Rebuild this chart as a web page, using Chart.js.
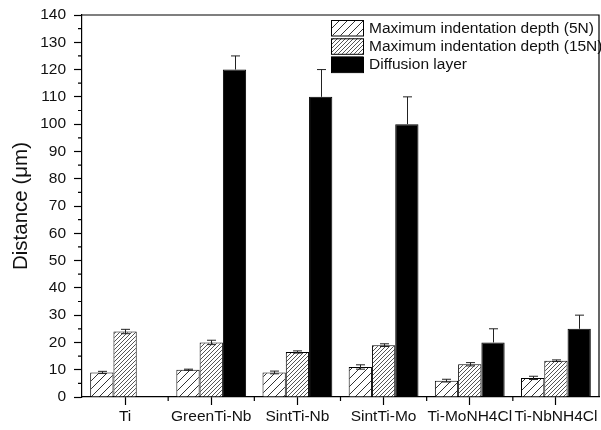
<!DOCTYPE html>
<html>
<head>
<meta charset="utf-8">
<script src="https://cdn.jsdelivr.net/npm/chart.js@4.4.0/dist/chart.umd.min.js"></script>
<style>
  html, body { margin: 0; padding: 0; background: #fff; }
  #wrap { width: 601px; height: 430px; }
</style>
</head>
<body>
<div id="wrap"><canvas id="c" width="601" height="430"></canvas></div>
<script>
// Samples and measured depths (µm)
const categories = ['Ti', 'GreenTi-Nb', 'SintTi-Nb', 'SintTi-Mo', 'Ti-MoNH4Cl', 'Ti-NbNH4Cl'];
const seriesNames = ['Maximum indentation depth (5N)', 'Maximum indentation depth (15N)', 'Diffusion layer'];

const depth5N      = [9, 10, 9, 11, 6, 7];
const depth5NErr   = [0.4, 0.2, 0.5, 0.8, 0.5, 0.6];
const depth15N     = [24, 20, 16.5, 19, 12, 13.3];
const depth15NErr  = [0.8, 0.8, 0.4, 0.5, 0.6, 0.3];
const diffusion    = [null, 120, 110, 100, 20, 25];
const diffusionErr = [null, 5, 10, 10, 5, 5];

const yMin = 0, yMax = 140, yStep = 10, yMinorStep = 5;

const FONT = "'Liberation Sans', Arial, sans-serif";
const INK = '#111';

// Diagonal "/" hatch fill
function hatch(size, lineColor, lineWidth) {
  const c = document.createElement('canvas');
  c.width = c.height = size;
  const g = c.getContext('2d');
  g.fillStyle = '#fff';
  g.fillRect(0, 0, size, size);
  g.strokeStyle = lineColor;
  g.lineWidth = lineWidth;
  g.beginPath();
  g.moveTo(0, size); g.lineTo(size, 0);
  g.moveTo(-1, 1); g.lineTo(1, -1);
  g.moveTo(size - 1, size + 1); g.lineTo(size + 1, size - 1);
  g.stroke();
  const ctx = document.getElementById('c').getContext('2d');
  return ctx.createPattern(c, 'repeat');
}

const fill5N = hatch(8, '#333', 1);
const fill15N = hatch(4, '#555', 1);
const fillDiff = '#000';

const errors = [depth5NErr, depth15NErr, diffusionErr];
const upwardOnly = [false, false, true];

// Error bars with caps, centred on each bar
const errorBars = {
  id: 'errorBars',
  afterDatasetsDraw(chart) {
    const ctx = chart.ctx;
    const y = chart.scales.y;
    ctx.save();
    ctx.strokeStyle = '#222';
    ctx.lineWidth = 1;
    chart.data.datasets.forEach((ds, di) => {
      const meta = chart.getDatasetMeta(di);
      meta.data.forEach((bar, i) => {
        const v = ds.data[i];
        const e = errors[di][i];
        if (v == null || e == null) return;
        const x = Math.round(bar.x) + 0.5;
        const yTop = y.getPixelForValue(v + e);
        const yBot = upwardOnly[di] ? y.getPixelForValue(v) : y.getPixelForValue(v - e);
        const cap = 4.5;
        ctx.beginPath();
        ctx.moveTo(x, yBot); ctx.lineTo(x, yTop);
        ctx.moveTo(x - cap, yTop); ctx.lineTo(x + cap, yTop);
        if (!upwardOnly[di]) { ctx.moveTo(x - cap, yBot); ctx.lineTo(x + cap, yBot); }
        ctx.stroke();
      });
    });
    ctx.restore();
  }
};

// Frame, minor ticks and legend
const decorations = {
  id: 'decorations',
  afterDraw(chart) {
    const ctx = chart.ctx;
    const a = chart.chartArea;
    const xs = chart.scales.x, ys = chart.scales.y;
    ctx.save();
    ctx.strokeStyle = '#000';
    ctx.lineWidth = 1.2;
    ctx.beginPath();
    ctx.moveTo(a.left, a.top); ctx.lineTo(a.right, a.top); ctx.lineTo(a.right, a.bottom);
    // minor y ticks
    for (let v = yMin + yMinorStep; v < yMax; v += yStep) {
      const py = ys.getPixelForValue(v);
      ctx.moveTo(a.left - 4, py); ctx.lineTo(a.left, py);
    }
    // minor x ticks at category boundaries
    for (let i = 0; i < categories.length - 1; i++) {
      const px = (xs.getPixelForValue(i) + xs.getPixelForValue(i + 1)) / 2;
      ctx.moveTo(px, a.bottom); ctx.lineTo(px, a.bottom + 4);
    }
    ctx.stroke();

    // legend
    const boxL = a.right - 268, boxW = 32, boxH = 15.5, rowTop = a.top + 5, pitch = 18.3;
    ctx.font = '15.5px ' + FONT;
    ctx.textBaseline = 'middle';
    ctx.textAlign = 'left';
    chart.data.datasets.forEach((ds, i) => {
      const top = rowTop + i * pitch;
      ctx.fillStyle = ds.backgroundColor;
      ctx.fillRect(boxL, top, boxW, boxH);
      ctx.lineWidth = 1;
      ctx.strokeStyle = '#000';
      ctx.strokeRect(boxL + 0.5, top + 0.5, boxW, boxH);
      ctx.fillStyle = INK;
      ctx.fillText(ds.label, boxL + boxW + 6, top + boxH / 2 + 0.5);
    });
    ctx.restore();
  }
};

new Chart(document.getElementById('c'), {
  type: 'bar',
  data: {
    labels: categories,
    datasets: [
      { label: seriesNames[0], data: depth5N, backgroundColor: fill5N, borderColor: '#000', borderWidth: 1 },
      { label: seriesNames[1], data: depth15N, backgroundColor: fill15N, borderColor: '#000', borderWidth: 1 },
      { label: seriesNames[2], data: diffusion, backgroundColor: fillDiff, borderColor: '#000', borderWidth: 1 }
    ]
  },
  options: {
    responsive: false,
    animation: false,
    devicePixelRatio: 1,
    layout: { padding: { top: 15, right: 2, left: 0, bottom: 0 } },
    datasets: { bar: { categoryPercentage: 0.81, barPercentage: 1.0 } },
    plugins: { legend: { display: false }, tooltip: { enabled: false } },
    scales: {
      x: {
        offset: true,
        grid: { offset: false, drawOnChartArea: false, tickLength: 8, tickColor: '#000', tickWidth: 1.2 },
        border: { color: '#000', width: 1.2 },
        ticks: { color: INK, padding: 2, autoSkip: false, maxRotation: 0, font: { family: FONT, size: 15.5 } },
        afterFit(s) { s.height = 33; s.paddingLeft = 0; s.paddingRight = 0; }
      },
      y: {
        min: yMin, max: yMax,
        grid: { drawOnChartArea: false, tickLength: 8, tickColor: '#000', tickWidth: 1.2 },
        border: { color: '#000', width: 1.2 },
        ticks: { stepSize: yStep, color: INK, padding: 8, font: { family: FONT, size: 15.5 } },
        title: { display: true, text: 'Distance (μm)', color: INK, font: { family: FONT, size: 20.5 }, padding: { top: 9, bottom: 0 } },
        afterFit(s) { s.width = 82; s.paddingTop = 0; s.paddingBottom = 0; }
      }
    }
  },
  plugins: [errorBars, decorations]
});
</script>
</body>
</html>
